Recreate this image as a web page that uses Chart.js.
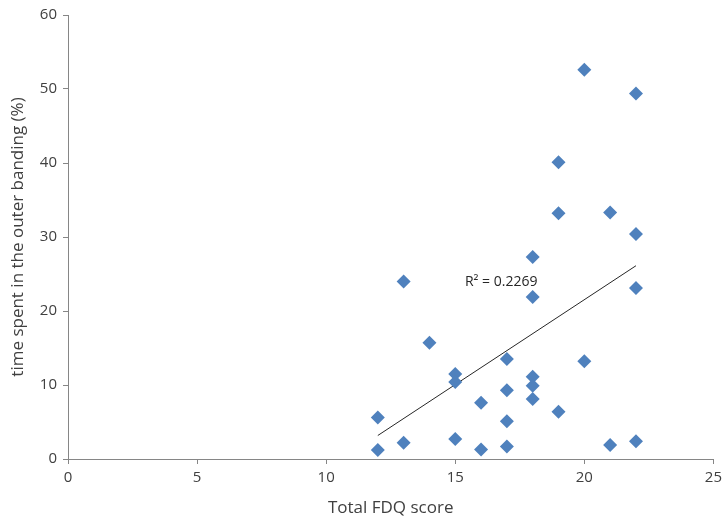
<!DOCTYPE html>
<html>
<head>
<meta charset="utf-8">
<script src="https://cdn.jsdelivr.net/npm/chart.js@4.4.1/dist/chart.umd.min.js"></script>
<style>
  html, body { margin: 0; padding: 0; background: #fff; }
  #wrap { width: 727px; height: 524px; }
</style>
</head>
<body>
<div id="wrap"><canvas id="fdq-chart"></canvas></div>
<script>
// FDQ score vs. time spent in outer banding (%)
const fdqScores = [12, 12, 13, 13, 14, 15, 15, 15, 16, 16, 17, 17, 17, 17, 18, 18, 18, 18, 18, 19, 19, 19, 20, 20, 21, 21, 22, 22, 22, 22];
const outerTime = [5.6, 1.2, 24.0, 2.2, 15.7, 11.5, 10.4, 2.7, 7.6, 1.3, 13.5, 9.3, 5.1, 1.7, 27.3, 21.9, 11.1, 9.9, 8.1, 6.4, 33.2, 40.1, 13.2, 52.6, 1.9, 33.3, 30.4, 23.1, 2.4, 49.4];
const xTicks = [0, 5, 10, 15, 20, 25];
const yTicks = [0, 10, 20, 30, 40, 50, 60];
const r2Label = 'R\u00B2 = 0.2269';

const points = fdqScores.map((x, i) => ({ x: x, y: outerTime[i] }));

// least squares line for the trend
const n = fdqScores.length;
const mx = fdqScores.reduce((a, b) => a + b, 0) / n;
const my = outerTime.reduce((a, b) => a + b, 0) / n;
let sxy = 0, sxx = 0;
fdqScores.forEach((x, i) => { sxy += (x - mx) * (outerTime[i] - my); sxx += (x - mx) * (x - mx); });
const slope = sxy / sxx;
const icept = my - slope * mx;
const xMin = Math.min(...fdqScores), xMax = Math.max(...fdqScores);
const trend = [{ x: xMin, y: icept + slope * xMin }, { x: xMax, y: icept + slope * xMax }];

const axisGray = '#868686';
const textGray = '#404040';
const font = "'Open Sans', 'DejaVu Sans', sans-serif";

const r2Plugin = {
  id: 'r2text',
  afterDatasetsDraw(chart) {
    const ctx = chart.ctx;
    const xs = chart.scales.x, ys = chart.scales.y;
    ctx.save();
    ctx.font = '14px ' + font;
    ctx.fillStyle = '#262626';
    ctx.textAlign = 'center';
    ctx.textBaseline = 'middle';
    ctx.fillText(r2Label, xs.getPixelForValue(16.78), ys.getPixelForValue(23.9));
    ctx.restore();
  }
};

const ctx = document.getElementById('fdq-chart').getContext('2d');
new Chart(ctx, {
  type: 'scatter',
  data: {
    datasets: [
      {
        label: 'Outer banding',
        data: points,
        pointStyle: 'rectRot',
        pointRadius: 7,
        pointHoverRadius: 7,
        backgroundColor: '#4F81BD',
        borderColor: '#4F81BD',
        borderWidth: 0,
      },
      {
        type: 'line',
        label: 'Trend',
        data: trend,
        borderColor: '#262626',
        borderWidth: 1,
        pointRadius: 0,
        fill: false,
      }
    ]
  },
  options: {
    responsive: true,
    maintainAspectRatio: false,
    animation: false,
    layout: { padding: { top: 12, right: 13, left: 0, bottom: 0 } },
    plugins: {
      legend: { display: false },
      tooltip: { enabled: false },
    },
    scales: {
      x: {
        type: 'linear',
        min: 0,
        max: 25,
        afterBuildTicks: (s) => { s.ticks = xTicks.map(v => ({ value: v })); },
        afterFit: (s) => { s.height = 65; },
        ticks: { color: textGray, font: { family: font, size: 15 }, padding: 5 },
        grid: { drawOnChartArea: false, color: axisGray, tickLength: 5 },
        border: { color: axisGray },
        title: { display: true, text: 'Total FDQ score', color: textGray, font: { family: font, size: 17 }, padding: { top: 4, bottom: 6 } },
      },
      y: {
        type: 'linear',
        min: 0,
        max: 60,
        afterBuildTicks: (s) => { s.ticks = yTicks.map(v => ({ value: v })); },
        afterFit: (s) => { s.width = 68; },
        ticks: { color: textGray, font: { family: font, size: 15 }, padding: 6 },
        grid: { drawOnChartArea: false, color: axisGray, tickLength: 5 },
        border: { color: axisGray },
        title: { display: true, text: 'time spent in the outer banding (%)', color: textGray, font: { family: font, size: 17 }, padding: { top: 8, bottom: 4 } },
      }
    }
  },
  plugins: [r2Plugin]
});
</script>
</body>
</html>
